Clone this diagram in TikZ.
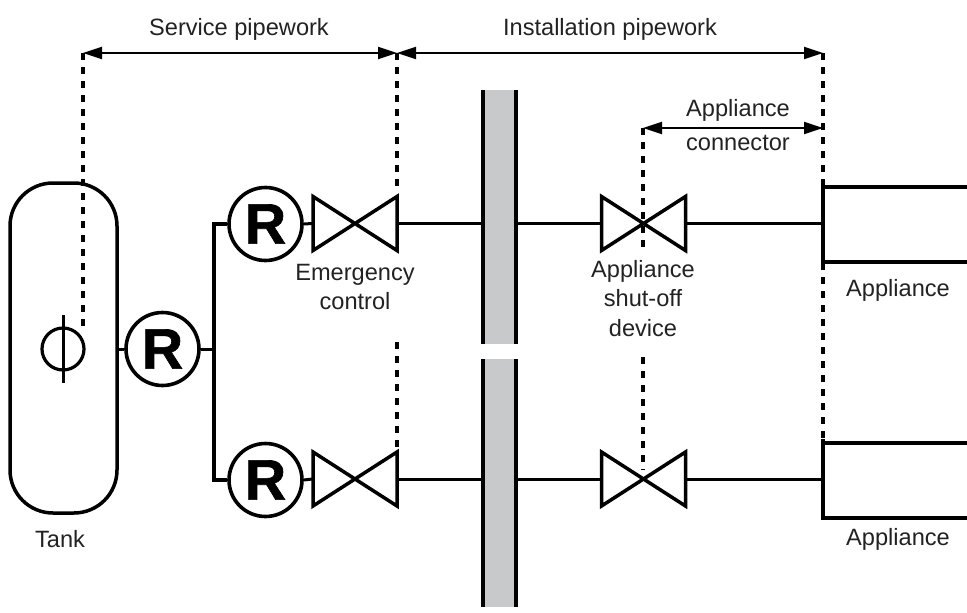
\documentclass[tikz,border=0pt]{standalone}
\usepackage{fontspec}
\setmainfont{Liberation Sans}
\newfontfamily\regfont[FakeBold=1.2]{Liberation Sans Bold}
\usetikzlibrary{arrows.meta}
\definecolor{wallgrey}{HTML}{C8C9CB}
\definecolor{labelink}{HTML}{222222}
\tikzset{
 x=1pt,y=-1pt,
 pipe/.style={line width=3.5pt,black},
 thinpipe/.style={line width=3pt,black},
 dashline/.style={line width=3.5pt,black,dash pattern=on 7pt off 7pt},
 dim/.style={line width=2pt,black,{Triangle[length=19pt,width=12pt]}-{Triangle[length=19pt,width=12pt]}},
 lab/.style={font=\fontsize{23.6}{29.5}\selectfont,text=labelink,align=center,inner sep=0pt},
 reg/.style={circle,draw=black,line width=3.6pt,fill=white,minimum size=73pt,inner sep=0pt,font=\fontsize{57}{57}\selectfont\regfont},
 valveshape/.style={pipe,line join=miter,fill=white},
 wall/.style={fill=wallgrey,draw=none},
}
\begin{document}
\begin{tikzpicture}
\useasboundingbox (0,0) rectangle (967,613);
% named points
\coordinate (meterTop) at (83,53);
\coordinate (svcEnd) at (397,53);
\coordinate (instEnd) at (823,53);
\coordinate (connL) at (643,128);
\coordinate (connR) at (823,128);
\coordinate (junction) at (214,349);
\coordinate (jTop) at (214,224);
\coordinate (jBot) at (214,480);
% walls
\fill[wall] (482,90) rectangle (517,344);
\fill[wall] (482,359) rectangle (517,607);
\draw[pipe] (483,90) -- (483,344) (516,90) -- (516,344);
\draw[pipe] (483,359) -- (483,607) (516,359) -- (516,607);
% tank
\draw[pipe,rounded corners=43pt] (10,183) rectangle (117,513);
\draw[line width=3.2pt] (63,349) circle (21);
\draw[line width=3pt] (63,315) -- (63,383);
% dashed leaders
\draw[dashline] (meterTop) -- (83,330);
\draw[dashline] (svcEnd) -- (397,190);
\draw[dashline] (397,342) -- (397,450);
\draw[dashline] (connL) -- (643,248);
\draw[dashline] (643,357) -- (643,470);
\draw[dashline] (instEnd) -- (823,443);
% regulators
\node[reg] (r0) at (162.5,349) {R};
\node[reg] (r1) at (265.5,224) {R};
\node[reg] (r2) at (265.5,480) {R};
% valves
\foreach \n/\cx/\cy in {v1/355/223.5,v2/355/479,v3/643.5/223.5,v4/643.5/479}{
  \coordinate (\n) at (\cx,\cy);
  \coordinate (\n W) at (\cx-42.5,\cy);
  \coordinate (\n E) at (\cx+42.5,\cy);
  \draw[valveshape] (\cx-42,\cy-27) -- (\cx+42,\cy+27) -- (\cx+42,\cy-27) -- (\cx-42,\cy+27) -- cycle;
}
% pipes
\draw[thinpipe] (117,349) -- (r0.west);
\draw[thinpipe] (r0.east) -- (junction);
\draw[pipe] (r1.west) -- (jTop) -- (jBot) -- (r2.west);
\draw[thinpipe] (r1.east) -- (v1W);
\draw[thinpipe] (r2.east) -- (v2W);
\draw[thinpipe] (v1E) -- (482,223.5);
\draw[thinpipe] (v2E) -- (482,479);
\draw[thinpipe] (517,223.5) -- (v3W);
\draw[thinpipe] (517,479) -- (v4W);
\draw[thinpipe] (v3E) -- (823,223.5);
\draw[thinpipe] (v4E) -- (823,479);
% appliances
\draw[pipe] (967,187) -- (823,187) -- (823,262) -- (967,262);
\draw[pipe] (967,443) -- (823,443) -- (823,518) -- (967,518);
\draw[pipe] (823,183) -- (823,264);
\draw[pipe] (823,439) -- (823,520);
% dimension arrows
\draw[dim] (meterTop) -- (svcEnd);
\draw[dim] (svcEnd) -- (instEnd);
\draw[dim] (connL) -- (connR);
% labels
\node[lab] (t1) at (239,29) {Service pipework};
\node[lab] (t2) at (610,29) {Installation pipework};
\node[lab] (t3) at (738,125) {Appliance\\[4pt]connector};
\node[lab] (t4) at (355,264) [anchor=north] {Emergency\\control};
\node[lab] (t5) at (643,260) [anchor=north] {Appliance\\shut-off\\device};
\node[lab] (t6) at (898,290) {Appliance};
\node[lab] (t7) at (898,539) {Appliance};
\node[lab] (t8) at (60,539) {Tank};
\end{tikzpicture}
\end{document}
